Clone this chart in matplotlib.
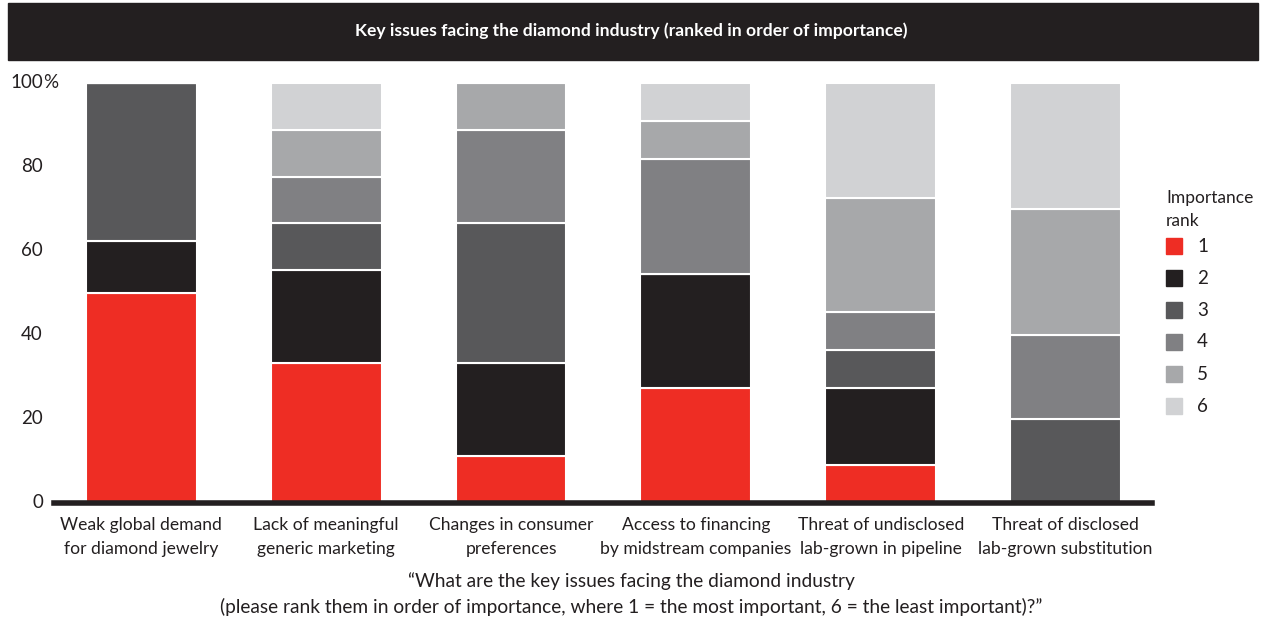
import matplotlib.pyplot as plt
import matplotlib.patches as mpatches
import matplotlib.transforms as mtrans
import numpy as np

plt.rcParams['font.family'] = ['Lato', 'DejaVu Sans']

# Categories and share of respondents (%) per importance rank
categories = ["Weak global demand\nfor diamond jewelry",
              "Lack of meaningful\ngeneric marketing",
              "Changes in consumer\npreferences",
              "Access to financing\nby midstream companies",
              "Threat of undisclosed\nlab-grown in pipeline",
              "Threat of disclosed\nlab-grown substitution"]
rank1 = [50.0, 33.3, 11.1, 27.3, 9.1, 0.0]
rank2 = [12.5, 22.2, 22.2, 27.3, 18.2, 0.0]
rank3 = [37.5, 11.1, 33.3, 0.0, 9.1, 20.0]
rank4 = [0.0, 11.1, 22.2, 27.3, 9.1, 20.0]
rank5 = [0.0, 11.1, 11.2, 9.1, 27.2, 30.0]
rank6 = [0.0, 11.2, 0.0, 9.0, 27.3, 30.0]
rank_labels = ["1", "2", "3", "4", "5", "6"]
y_ticks = [0, 20, 40, 60, 80, 100]

colors = ["#EE2D24", "#231F20", "#58585A", "#808083", "#A7A8AA", "#D1D2D4"]

fig = plt.figure(figsize=(12.63, 6.22), dpi=100)
W, H = 1263, 622
ax = fig.add_axes([54 / W, 1 - 503 / H, (1152 - 54) / W, 420 / H])

x = np.arange(len(categories))
width = 0.6
bottom = np.zeros(len(categories))
for vals, col in zip([rank1, rank2, rank3, rank4, rank5, rank6], colors):
    vals = np.array(vals)
    ax.bar(x, vals, width, bottom=bottom, color=col, edgecolor="white",
           linewidth=1.5, zorder=2)
    bottom += vals

ax.set_xlim(-0.473, 5.468)
ax.set_ylim(0, 100)
for s in ["top", "right", "left"]:
    ax.spines[s].set_visible(False)
ax.spines["bottom"].set_linewidth(4)
ax.spines["bottom"].set_color("#231F20")
ax.spines["bottom"].set_zorder(3)
ax.set_yticks([])
ax.set_xticks(x)
ax.set_xticklabels(categories, fontsize=12.6, color="#231F20", linespacing=1.62)
ax.tick_params(axis="x", length=0, pad=10)

# y tick labels (numbers right-aligned, % hanging)
trans = mtrans.blended_transform_factory(fig.transFigure, ax.transData)
for t in y_ticks:
    ax.text(43 / W, t, str(t), transform=trans, ha="right", va="center",
            fontsize=13.5, color="#231F20")
ax.text(43 / W, 100, "%", transform=trans, ha="left", va="center",
        fontsize=13.5, color="#231F20")

# title band
fig.patches.append(mpatches.Rectangle((8 / W, 1 - 60 / H), 1250 / W, 57 / H,
                                      transform=fig.transFigure,
                                      color="#231F20", zorder=0))
fig.text(631 / W, 1 - 31 / H, "Key issues facing the diamond industry (ranked in order of importance)",
         ha="center", va="center", color="white", fontsize=12.6, fontweight="bold")

# legend
fig.text(1166 / W, 1 - 198 / H, "Importance", ha="left", va="center",
         fontsize=12.5, color="#231F20")
fig.text(1166 / W, 1 - 221 / H, "rank", ha="left", va="center",
         fontsize=12.5, color="#231F20")
for i, (lab, col) in enumerate(zip(rank_labels, colors)):
    yc = 246 + 32 * i
    fig.patches.append(mpatches.Rectangle((1166 / W, 1 - (yc + 8) / H), 16 / W, 16 / H,
                                          transform=fig.transFigure, color=col))
    fig.text(1197 / W, 1 - yc / H, lab, ha="left", va="center",
             fontsize=13.5, color="#231F20")

# survey question
fig.text(631 / W, 1 - 581 / H,
         "\u201cWhat are the key issues facing the diamond industry",
         ha="center", va="center", fontsize=13.8, color="#231F20")
fig.text(631 / W, 1 - 607 / H,
         "(please rank them in order of importance, where 1 = the most important, 6 = the least important)?\u201d",
         ha="center", va="center", fontsize=13.8, color="#231F20")

fig.savefig("out.png", dpi=100)
